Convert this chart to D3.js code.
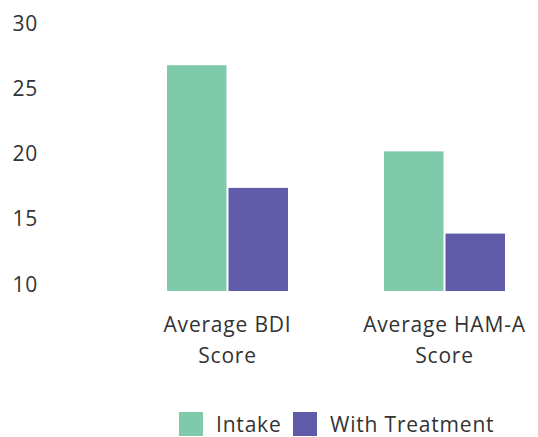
<!DOCTYPE html>
<html>
<head>
<meta charset="utf-8">
<script src="https://cdn.jsdelivr.net/npm/d3@7"></script>
<style>
  body { margin: 0; background: #fff; }
  text { font-family: "Open Sans", Lato, sans-serif; font-weight: 400; fill: #333; letter-spacing: 0.8px; }
</style>
</head>
<body>
<div class="container"></div>
<script>
const categories = [["Average BDI", "Score"], ["Average HAM-A", "Score"]]
const series = ["Intake", "With Treatment"]
const intake = [27.3, 20.7]
const treatment = [17.9, 14.4]
const yTicks = [10, 15, 20, 25, 30]
const colors = ["#80caac", "#5f5ba8"]

const w = 538
const h = 437

const svg = d3.select(".container")
    .append("svg")
    .attr("width", w)
    .attr("height", h)

const keys = categories.map(c => c.join(" "))

const x0 = d3.scaleBand()
    .domain(keys)
    .range([167, 505])
    .paddingInner(0.4424)
    .paddingOuter(0)

const x1 = d3.scaleBand()
    .domain(series)
    .range([0, x0.bandwidth()])

const y = d3.scaleLinear()
    .domain([10, 30])
    .range([291, 30])

const rows = keys.map((k, i) => ({ key: k, values: [intake[i], treatment[i]] }))

// bars
svg.selectAll("g.group")
    .data(rows)
    .enter()
    .append("g")
    .attr("class", "group")
    .attr("transform", d => "translate(" + x0(d.key) + ",0)")
    .selectAll("rect")
    .data(d => d.values.map((v, j) => ({ s: series[j], v: v, j: j })))
    .enter()
    .append("rect")
    .attr("x", d => x1(d.s) + (d.j ? 1 : 0))
    .attr("y", d => y(d.v))
    .attr("width", x1.bandwidth() - 1)
    .attr("height", d => y(10) - y(d.v))
    .attr("fill", d => colors[d.j])

// y axis labels, no line
const yAxis = d3.axisLeft(y).tickValues(yTicks).tickSize(0).tickPadding(0)
const gy = svg.append("g")
    .attr("transform", "translate(38,0)")
    .call(yAxis)
gy.select(".domain").remove()
gy.selectAll("text")
    .attr("dy", 0)
    .attr("font-size", 21)
    .attr("font-family", null)

// x axis labels
const xAxis = d3.axisBottom(x0).tickSize(0).tickFormat("")
const gx = svg.append("g")
    .attr("transform", "translate(0," + y(10) + ")")
    .call(xAxis)
gx.select(".domain").remove()
gx.selectAll(".tick")
    .each(function(d, i) {
        const t = d3.select(this).append("text")
            .attr("text-anchor", "middle")
            .attr("font-size", 21)
        categories[i].forEach((line, k) => {
            t.append("tspan")
                .attr("x", 0)
                .attr("y", 41 + k * 31)
                .text(line)
        })
    })

// legend
const legendX = [179, 293]
const legend = svg.append("g")
series.forEach((s, i) => {
    legend.append("rect")
        .attr("x", legendX[i])
        .attr("y", 412)
        .attr("width", 24)
        .attr("height", 24)
        .attr("fill", colors[i])
    legend.append("text")
        .attr("x", legendX[i] + 37)
        .attr("y", 432)
        .attr("font-size", 21)
        .text(s)
})
</script>
</body>
</html>
